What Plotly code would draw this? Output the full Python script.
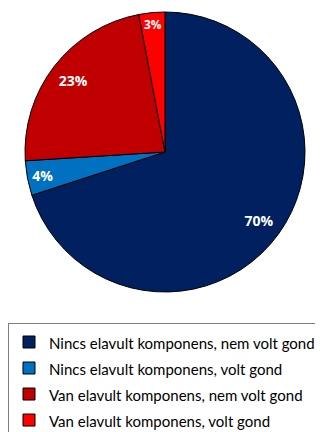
import plotly.graph_objects as go

labels = ["Nincs elavult komponens, nem volt gond",
          "Nincs elavult komponens, volt gond",
          "Van elavult komponens, nem volt gond",
          "Van elavult komponens, volt gond"]
values = [70, 4, 23, 3]
colors = ["#002060", "#0070C0", "#C00000", "#FF0000"]

# page body has an 8px margin, so positions are given relative to the figure
dom = dict(x=[17/323, 297/323], y=[(432-284)/432, (432-4)/432])

legend_names = ['<span style="font-size:15px">%s</span>' % s for s in labels]

fig = go.Figure()
fig.add_trace(go.Pie(
    labels=legend_names, values=values, sort=False, direction="clockwise", rotation=0,
    marker=dict(colors=colors, line=dict(color="#000000", width=1)),
    textinfo="none", domain=dom, hoverinfo="skip",
))
# transparent ring carrying the percentage labels near the outer edge
fig.add_trace(go.Pie(
    labels=legend_names, values=values, sort=False, direction="clockwise", rotation=0,
    hole=0.66, showlegend=False,
    marker=dict(colors=["rgba(0,0,0,0)"]*4, line=dict(width=0)),
    textinfo="percent", texttemplate="%{percent:.0%}", textposition="inside",
    insidetextorientation="horizontal",
    textfont=dict(family="Open Sans", size=14, color="white", weight="bold"),
    domain=dom, hoverinfo="skip",
))
fig.update_layout(
    width=323, height=432, margin=dict(l=0, r=0, t=0, b=0),
    paper_bgcolor="white", plot_bgcolor="white",
    showlegend=True,
    legend=dict(x=0, y=1-315/432, xanchor="left", yanchor="top",
                bordercolor="#7f7f7f", borderwidth=1,
                font=dict(family="Lato", size=17.7, color="#000000"),
                itemwidth=30, tracegroupgap=0),
)
fig.write_html("out.html")
